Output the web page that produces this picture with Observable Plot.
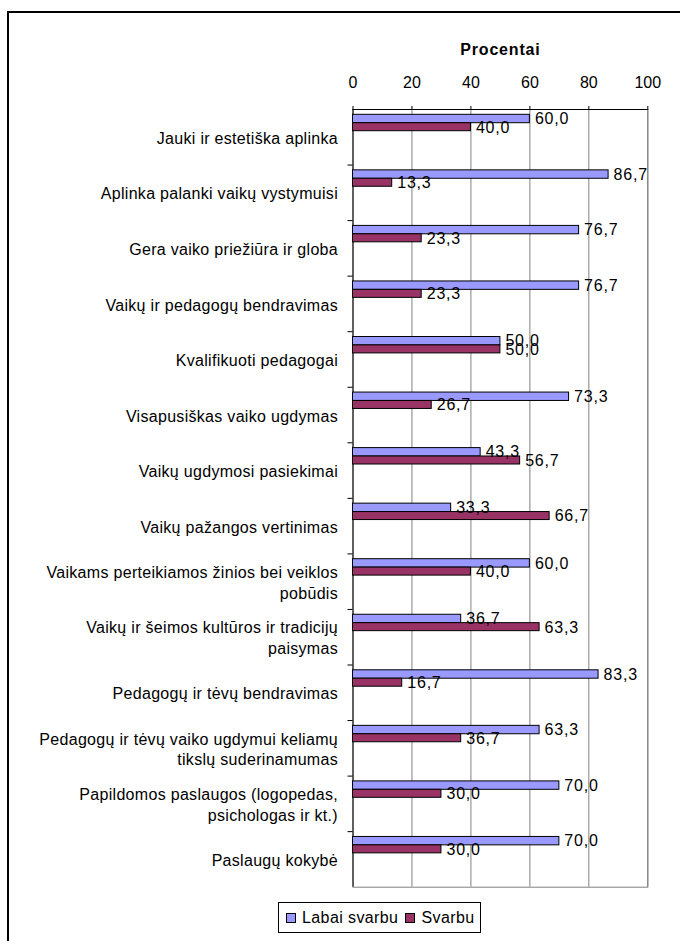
<!DOCTYPE html>
<html>
<head>
<meta charset="utf-8">
<script src="https://cdn.jsdelivr.net/npm/d3@7"></script>
<script src="https://cdn.jsdelivr.net/npm/@observablehq/plot@0.6"></script>
<style>
  html, body { margin: 0; padding: 0; background: #fff; }
  #wrap { position: relative; width: 680px; height: 941px; overflow: hidden; font-family: "Liberation Sans", Arial, sans-serif; }
  #frameL { position: absolute; left: 7px; top: 11px; width: 2px; height: 940px; background: #000; }
  #frameT { position: absolute; left: 7px; top: 11px; width: 680px; height: 2px; background: #000; }
  #chart { position: absolute; left: 0; top: 0; }
  #legend { position: absolute; left: 278px; top: 902px; width: 203px; height: 31px; border: 1px solid #000; box-sizing: border-box;
            display: flex; align-items: center; font-size: 16px; letter-spacing: 0.4px; color: #000; }
  .sw { display: inline-block; width: 8px; height: 8px; border: 1px solid #000; margin: 0 6px 0 7px; }
</style>
</head>
<body>
<div id="wrap">
  <div id="frameL"></div>
  <div id="frameT"></div>
  <div id="chart"></div>
  <div id="legend"></div>
</div>
<script>
const categories = [
  "Jauki ir estetiška aplinka",
  "Aplinka palanki vaikų vystymuisi",
  "Gera vaiko priežiūra ir globa",
  "Vaikų ir pedagogų bendravimas",
  "Kvalifikuoti pedagogai",
  "Visapusiškas vaiko ugdymas",
  "Vaikų ugdymosi pasiekimai",
  "Vaikų pažangos vertinimas",
  "Vaikams perteikiamos žinios bei veiklos pobūdis",
  "Vaikų ir šeimos kultūros ir tradicijų paisymas",
  "Pedagogų ir tėvų bendravimas",
  "Pedagogų ir tėvų vaiko ugdymui keliamų tikslų suderinamumas",
  "Papildomos paslaugos (logopedas, psichologas ir kt.)",
  "Paslaugų kokybė"
];
const tickLabels = [
  "Jauki ir estetiška aplinka",
  "Aplinka palanki vaikų vystymuisi",
  "Gera vaiko priežiūra ir globa",
  "Vaikų ir pedagogų bendravimas",
  "Kvalifikuoti pedagogai",
  "Visapusiškas vaiko ugdymas",
  "Vaikų ugdymosi pasiekimai",
  "Vaikų pažangos vertinimas",
  "Vaikams perteikiamos žinios bei veiklos\npobūdis",
  "Vaikų ir šeimos kultūros ir tradicijų\npaisymas",
  "Pedagogų ir tėvų bendravimas",
  "Pedagogų ir tėvų vaiko ugdymui keliamų\ntikslų suderinamumas",
  "Papildomos paslaugos (logopedas,\npsichologas ir kt.)",
  "Paslaugų kokybė"
];
const labaiSvarbu = [60.0, 86.7, 76.7, 76.7, 50.0, 73.3, 43.3, 33.3, 60.0, 36.7, 83.3, 63.3, 70.0, 70.0];
const svarbu      = [40.0, 13.3, 23.3, 23.3, 50.0, 26.7, 56.7, 66.7, 40.0, 63.3, 16.7, 36.7, 30.0, 30.0];
const seriesNames = ["Labai svarbu", "Svarbu"];
const seriesColors = ["#9999FF", "#993366"];
const xTicks = [0, 20, 40, 60, 80, 100];
const axisTitle = "Procentai";

const W = 680, H = 895;
const mL = 352.5, mR = 680 - 647.3, mT = 109, mB = H - 886.7;
const bw = (H - mT - mB) / categories.length;

const rowsA = categories.map((c, i) => ({cat: c, v: labaiSvarbu[i]}));
const rowsB = categories.map((c, i) => ({cat: c, v: svarbu[i]}));
const fmt = v => v.toFixed(1).replace(".", ",");
const labelMap = new Map(categories.map((c, i) => [c, tickLabels[i]]));

const chart = Plot.plot({
  width: W, height: H,
  marginLeft: mL, marginRight: mR, marginTop: mT, marginBottom: mB,
  style: {fontFamily: "'Liberation Sans', Arial, sans-serif", fontSize: "16px", color: "#000", background: "transparent"},
  x: {domain: [0, 100]},
  y: {domain: categories, padding: 0, round: false},
  marks: [
    Plot.gridX(xTicks.slice(1), {stroke: "#808080", strokeOpacity: 1}),
    Plot.frame({stroke: "#808080"}),
    Plot.ruleX([0], {stroke: "#000"}),
    Plot.ruleY([categories[0]], {y: d => d, stroke: "#000", dy: -bw / 2}),
    Plot.ruleY(categories.slice(1), {y: d => d, x1: -1.7, x2: 0, stroke: "#000", dy: -bw / 2, clip: false}),
    Plot.axisX(xTicks, {anchor: "top", tickSize: 4, tickPadding: 18, fontSize: 16, label: null, stroke: "#000"}),
    Plot.axisY({anchor: "left", tickSize: 0, tickPadding: 15, fontSize: 16, label: null, lineHeight: 1.3,
      tickFormat: d => labelMap.get(d)}),
    Plot.barX(rowsA, {y: "cat", x: "v", fill: seriesColors[0], stroke: "#000", strokeWidth: 1, insetTop: 5.3, insetBottom: bw - 13.7}),
    Plot.barX(rowsB, {y: "cat", x: "v", fill: seriesColors[1], stroke: "#000", strokeWidth: 1, insetTop: 13.7, insetBottom: bw - 21.7}),
    Plot.text(rowsA, {y: "cat", x: "v", text: d => fmt(d.v), dx: 5, dy: 9.5 - bw / 2, textAnchor: "start", fontSize: 16, fill: "#000"}),
    Plot.text(rowsB, {y: "cat", x: "v", text: d => fmt(d.v), dx: 5, dy: 18 - bw / 2, textAnchor: "start", fontSize: 16, fill: "#000"}),
    Plot.text([axisTitle], {frameAnchor: "top", lineAnchor: "middle", dy: -60, text: d => d, fontWeight: "bold", fontSize: 16, fill: "#000"})
  ]
});
document.getElementById("chart").appendChild(chart);

// letter spacing similar to the reference rendering
chart.querySelectorAll('g[aria-label="text"] text').forEach(t => t.setAttribute("letter-spacing", "0.8px"));
chart.querySelectorAll('g[aria-label="y-axis tick label"] text').forEach(t => t.setAttribute("letter-spacing", "0.3px"));

const legend = document.getElementById("legend");
seriesNames.forEach((n, i) => {
  const sw = document.createElement("span");
  sw.className = "sw";
  sw.style.background = seriesColors[i];
  legend.appendChild(sw);
  const tx = document.createElement("span");
  tx.textContent = n;
  legend.appendChild(tx);
});
</script>
</body>
</html>
